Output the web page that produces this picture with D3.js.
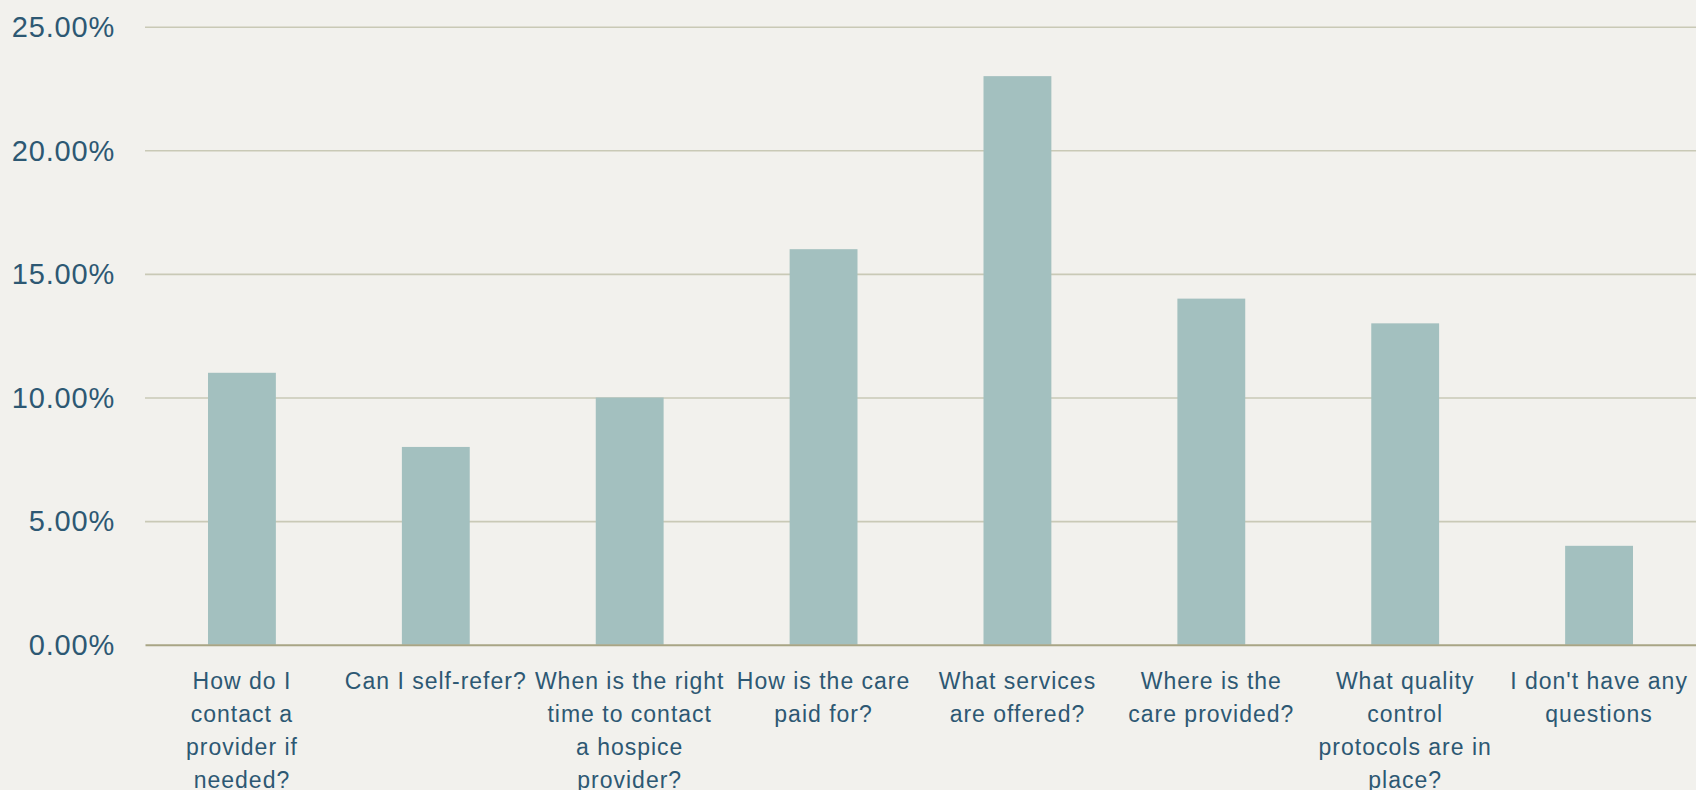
<!DOCTYPE html>
<html><head><meta charset="utf-8">
<script src="https://cdn.jsdelivr.net/npm/d3@7"></script>
<style>
html,body{margin:0;padding:0;background:#f2f1ed;}
svg{display:block;}
</style></head>
<body>
<svg id="chart" width="1696" height="790"></svg>
<script>
const categories = [
  "How do I contact a provider if needed?",
  "Can I self-refer?",
  "When is the right time to contact a hospice provider?",
  "How is the care paid for?",
  "What services are offered?",
  "Where is the care provided?",
  "What quality control protocols are in place?",
  "I don't have any questions"
];
const categoryLines = [
  ["How do I", "contact a", "provider if", "needed?"],
  ["Can I self-refer?"],
  ["When is the right", "time to contact", "a hospice", "provider?"],
  ["How is the care", "paid for?"],
  ["What services", "are offered?"],
  ["Where is the", "care provided?"],
  ["What quality", "control", "protocols are in", "place?"],
  ["I don't have any", "questions"]
];
const values = [0.11, 0.08, 0.10, 0.16, 0.23, 0.14, 0.13, 0.04];
const yTicks = [0, 0.05, 0.10, 0.15, 0.20, 0.25];

const W = 1696, H = 790;
const m = {left: 145, right: 0, top: 26.7, bottom: 790 - 644.7};
const svg = d3.select("#chart");
svg.append("rect").attr("width", W).attr("height", H).attr("fill", "#f2f1ed");

const x = d3.scaleBand().domain(categories).range([m.left, W - m.right]).paddingInner(0.65).paddingOuter(0.325);
const y = d3.scaleLinear().domain([0, 0.25]).range([H - m.bottom, m.top]);

const textColor = "#2d5873";
const font = "'Liberation Sans', Arial, sans-serif";

// gridlines
const grid = svg.append("g")
  .attr("transform", `translate(${m.left},0)`)
  .call(d3.axisLeft(y).tickValues(yTicks.filter(d => d > 0)).tickSize(-(W - m.left - m.right)).tickFormat(""));
grid.select(".domain").remove();
grid.selectAll("line").attr("stroke", "#c9c9b6").attr("stroke-width", 1.6);

// y labels
const yAxis = svg.append("g")
  .attr("transform", `translate(${m.left},0)`)
  .call(d3.axisLeft(y).tickValues(yTicks).tickSize(0).tickPadding(30).tickFormat(d3.format(".2%")));
yAxis.select(".domain").remove();
yAxis.selectAll("text").attr("fill", textColor).attr("font-family", font).attr("font-size", 29)
  .attr("letter-spacing", 0.8).attr("dy", "0.34em");

// bars
svg.append("g").selectAll("rect").data(values).join("rect")
  .attr("x", (d, i) => x(categories[i]))
  .attr("width", x.bandwidth())
  .attr("y", d => y(d))
  .attr("height", d => y(0) - y(d))
  .attr("fill", "#a3c0bf");

// baseline axis
const xAxis = svg.append("g")
  .attr("transform", `translate(0,${y(0)})`)
  .call(d3.axisBottom(x).tickSize(0).tickFormat(""));
xAxis.select(".domain").attr("stroke", "#a8a585").attr("stroke-width", 2);

// category labels
const lbl = svg.append("g").selectAll("text").data(categories).join("text")
  .attr("text-anchor", "middle")
  .attr("fill", textColor)
  .attr("font-family", font)
  .attr("font-size", 23)
  .attr("letter-spacing", 1)
  .attr("transform", d => `translate(${x(d) + x.bandwidth() / 2},${y(0) + 44})`);
lbl.each(function(d, i) {
  d3.select(this).selectAll("tspan").data(categoryLines[i]).join("tspan")
    .attr("x", 0).attr("y", (t, j) => j * 33).text(t => t);
});
</script>
</body></html>
